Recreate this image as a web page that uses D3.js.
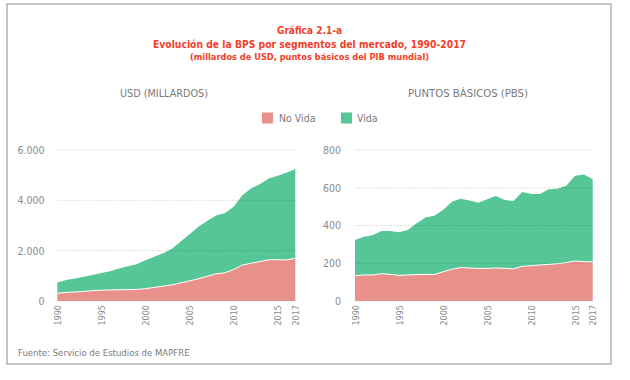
<!DOCTYPE html>
<html><head><meta charset="utf-8">
<script src="https://cdn.jsdelivr.net/npm/d3@7"></script>
<style>
body{margin:0;background:#fff;}
text{font-family:"Liberation Sans Narrow","DejaVu Sans Condensed","Roboto",sans-serif;}
</style></head>
<body>
<svg id="c" width="630" height="380"></svg>
<script>
const years = d3.range(1990, 2018);
const xTickYears = [1990, 1995, 2000, 2005, 2010, 2015, 2017];
const seriesNames = ["No Vida", "Vida"];
const usdNoVida = [310,340,360,380,410,430,440,445,450,460,490,540,590,640,720,800,880,980,1080,1120,1250,1430,1500,1570,1640,1640,1630,1700];
const usdVida   = [430,490,530,580,620,680,740,845,930,1000,1130,1220,1310,1440,1640,1850,2070,2200,2320,2370,2500,2770,2980,3080,3230,3340,3470,3550];
const pbsNoVida = [134,138,138,145,141,136,138,140,141,140,155,168,177,175,173,173,175,173,170,184,187,191,194,198,203,212,208,207];
const pbsVida   = [189,203,210,226,230,228,238,272,302,312,327,358,365,357,348,366,381,362,360,394,380,376,398,397,408,451,462,440];
const usdTicks = [0, 2000, 4000, 6000];
const pbsTicks = [0, 200, 400, 600, 800];
const titles = ["Gráfica 2.1-a", "Evolución de la BPS por segmentos del mercado, 1990-2017", "(millardos de USD, puntos básicos del PIB mundial)"];
const panelTitles = ["USD (MILLARDOS)", "PUNTOS BÁSICOS (PBS)"];
const source = "Fuente: Servicio de Estudios de MAPFRE";

const colors = {"No Vida": "#e8918b", "Vida": "#56c697"};
const red = "#f2402a";
const svg = d3.select("#c");
const loc = d3.formatLocale({decimal: ",", thousands: ".", grouping: [3], currency: ["", ""]});
const fmt = loc.format(",d");

svg.append("rect").attr("x", 7).attr("y", 4).attr("width", 604).attr("height", 360)
  .attr("fill", "none").attr("stroke", "#b3b3b3").attr("stroke-width", 1.5);

// titles
const tl = [{y: 34, s: 11, w: 65}, {y: 47.5, s: 11, w: 313}, {y: 59.5, s: 9.5, w: 239}];
titles.forEach((t, i) => {
  svg.append("text").attr("x", 309.5).attr("y", tl[i].y).attr("text-anchor", "middle")
    .attr("font-size", tl[i].s).attr("font-weight", "bold").attr("fill", red)
    .attr("textLength", tl[i].w).attr("lengthAdjust", "spacingAndGlyphs").text(t);
});

// panel titles
[[164, 88], [468, 120]].forEach((p, i) => {
  svg.append("text").attr("x", p[0]).attr("y", 97).attr("text-anchor", "middle")
    .attr("font-size", 10.5).attr("fill", "#7a7a7a")
    .attr("textLength", p[1]).attr("lengthAdjust", "spacingAndGlyphs").text(panelTitles[i]);
});

// legend
const lg = [{x: 262, tx: 279}, {x: 341, tx: 357}];
seriesNames.forEach((n, i) => {
  svg.append("rect").attr("x", lg[i].x).attr("y", 112.5).attr("width", 11).attr("height", 11).attr("fill", colors[n]);
  svg.append("text").attr("x", lg[i].tx).attr("y", 121.5).attr("font-size", 10.5).attr("fill", "#7a7a7a").text(n);
});

// source
svg.append("text").attr("x", 18).attr("y", 356).attr("font-size", 9.5).attr("fill", "#7a7a7a").text(source);

function panel(x0, x1, noVida, vida, ticks, labelX) {
  const y0 = 301, yTop = 150;
  const x = d3.scaleLinear().domain([1990, 2017]).range([x0, x1]);
  const y = d3.scaleLinear().domain([0, ticks[ticks.length - 1]]).range([y0, yTop]);
  const rows = years.map((yr, i) => ({year: yr, "No Vida": noVida[i], "Vida": vida[i]}));
  const stack = d3.stack().keys(seriesNames)(rows);
  const area = d3.area().x(d => x(d.data.year)).y0(d => y(d[0])).y1(d => y(d[1]));
  const g = svg.append("g");
  g.selectAll("path.a").data(stack).join("path").attr("class", "a")
    .attr("d", area).attr("fill", d => colors[d.key]);
  g.append("path").datum(stack[0])
    .attr("d", d3.line().x(d => x(d.data.year)).y(d => y(d[1])))
    .attr("fill", "none").attr("stroke", "#fff").attr("stroke-width", 1);
  // grid
  ticks.filter(t => t > 0).forEach(t => {
    g.append("line").attr("x1", x0).attr("x2", x1).attr("y1", y(t)).attr("y2", y(t))
      .attr("stroke", "rgba(0,0,0,0.18)").attr("stroke-width", 0.8).attr("stroke-dasharray", "2,1.5");
  });
  // y labels
  const ya = d3.axisLeft(y).tickValues(ticks).tickFormat(fmt).tickSize(0).tickPadding(0);
  const yg = svg.append("g").attr("transform", `translate(${labelX},0)`).call(ya);
  yg.select(".domain").remove();
  yg.selectAll("text").attr("font-size", 10.5).attr("fill", "#8a8a8a").attr("font-family", null);
  // x labels
  const xa = d3.axisBottom(x).tickValues(xTickYears).tickFormat(d3.format("d")).tickSize(0).tickPadding(0);
  const xg = svg.append("g").attr("transform", `translate(0,${y0})`).call(xa);
  xg.select(".domain").remove();
  xg.selectAll("text").attr("font-size", 9).attr("fill", "#8a8a8a").attr("font-family", null)
    .attr("text-anchor", "end").attr("dy", null).attr("y", 0)
    .attr("transform", "translate(3.2,4) rotate(-90)");
}

panel(57.3, 295.3, usdNoVida, usdVida, usdTicks, 44.5);
panel(355, 592.7, pbsNoVida, pbsVida, pbsTicks, 341);
</script>
</body></html>
